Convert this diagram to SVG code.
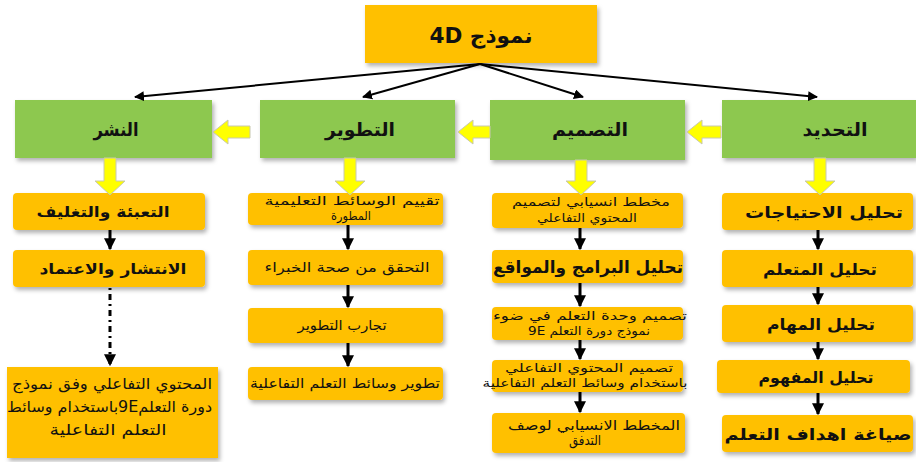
<svg xmlns="http://www.w3.org/2000/svg" width="916" height="462" viewBox="0 0 916 462">
  <defs>
    <filter id="shadow" x="-10%" y="-20%" width="125%" height="150%">
      <feDropShadow dx="2" dy="3" stdDeviation="2" flood-color="#000" flood-opacity="0.3"/>
    </filter>
    <marker id="tip" viewBox="0 0 10 10" refX="9" refY="5" markerWidth="5" markerHeight="5" orient="auto" markerUnits="strokeWidth">
      <path d="M0,0 L10,5 L0,10 z" fill="#000"/>
    </marker>
    <marker id="tipSmall" viewBox="0 0 10 10" refX="9" refY="5" markerWidth="4" markerHeight="4" orient="auto" markerUnits="strokeWidth">
      <path d="M0,0 L10,5 L0,10 z" fill="#000"/>
    </marker>
  </defs>
  <style>
    text { font-family: "DejaVu Sans", "Noto Sans", sans-serif; fill: #111; direction: rtl; text-anchor: middle; }
    .main { fill: #FFC000; filter: url(#shadow); }
    .phase { fill: #8DC84F; filter: url(#shadow); }
    .step { fill: #FFC000; filter: url(#shadow); }
    .title { font-size: 21px; font-weight: bold; }
    .phaseLabel { font-size: 18px; font-weight: bold; }
    .big { font-size: 16px; font-weight: bold; }
    .mid { font-size: 15px; font-weight: bold; }
    .small { font-size: 13.5px; }
    .tight { font-size: 12px; }
    .line { stroke: #000; stroke-width: 2; fill: none; marker-end: url(#tip); }
    .down { stroke: #000; stroke-width: 3; fill: none; marker-end: url(#tipSmall); }
    .dotted { stroke: #000; stroke-width: 3; fill: none; stroke-dasharray: 2 4 6 4; marker-end: url(#tipSmall); }
    .block { fill: #FFFF00; stroke: #C8C8B0; stroke-width: 1; }
  </style>

  <!-- top node -->
  <g id="model">
    <rect class="main" x="365" y="5" width="232" height="58"/>
    <text class="title" x="481" y="43" textLength="103" lengthAdjust="spacingAndGlyphs">نموذج 4D</text>
  </g>

  <!-- phases -->
  <g id="phase-dissemination">
    <rect class="phase" x="15" y="100" width="197" height="58"/>
    <text class="phaseLabel" x="116" y="136" textLength="45" lengthAdjust="spacingAndGlyphs">النشر</text>
  </g>
  <g id="phase-development">
    <rect class="phase" x="260" y="100" width="195" height="58"/>
    <text class="phaseLabel" x="360" y="136" textLength="70" lengthAdjust="spacingAndGlyphs">التطوير</text>
  </g>
  <g id="phase-design">
    <rect class="phase" x="490" y="100" width="195" height="60"/>
    <text class="phaseLabel" x="590" y="136" textLength="76" lengthAdjust="spacingAndGlyphs">التصميم</text>
  </g>
  <g id="phase-define">
    <rect class="phase" x="722" y="100" width="194" height="58"/>
    <text class="phaseLabel" x="835" y="136" textLength="65" lengthAdjust="spacingAndGlyphs">التحديد</text>
  </g>

  <!-- dissemination steps -->
  <g id="d1">
    <rect class="step" x="13" y="193" width="192" height="37" rx="4"/>
    <text class="mid" x="103" y="217" textLength="133" lengthAdjust="spacingAndGlyphs">التعبئة والتغليف</text>
  </g>
  <g id="d2">
    <rect class="step" x="13" y="250" width="192" height="37" rx="4"/>
    <text class="mid" x="113" y="274" textLength="147" lengthAdjust="spacingAndGlyphs">الانتشار والاعتماد</text>
  </g>
  <g id="d3">
    <rect class="step" x="7" y="367" width="211" height="91"/>
    <text class="small" x="112" y="389" style="font-size:15px" textLength="200" lengthAdjust="spacingAndGlyphs">المحتوي التفاعلي وفق نموذج</text>
    <text class="small" x="212" y="412" style="font-size:15px;text-anchor:start" textLength="205" lengthAdjust="spacingAndGlyphs">دورة التعلم9Eباستخدام وسائط</text>
    <text class="small" x="108" y="435" style="font-size:15px" textLength="117" lengthAdjust="spacingAndGlyphs">التعلم التفاعلية</text>
  </g>

  <!-- development steps -->
  <g id="v1">
    <rect class="step" x="248" y="193" width="195" height="32" rx="4"/>
    <text class="tight" x="352" y="205" textLength="175" lengthAdjust="spacingAndGlyphs">تقييم الوسائط التعليمية</text>
    <text class="tight" x="351" y="220" textLength="40" lengthAdjust="spacingAndGlyphs">المطورة</text>
  </g>
  <g id="v2">
    <rect class="step" x="248" y="250" width="195" height="35" rx="4"/>
    <text class="small" x="347" y="272" textLength="165" lengthAdjust="spacingAndGlyphs">التحقق من صحة الخبراء</text>
  </g>
  <g id="v3">
    <rect class="step" x="248" y="308" width="195" height="35" rx="4"/>
    <text class="small" x="342" y="330" textLength="89" lengthAdjust="spacingAndGlyphs">تجارب التطوير</text>
  </g>
  <g id="v4">
    <rect class="step" x="248" y="367" width="195" height="33" rx="4"/>
    <text class="small" x="345" y="388" textLength="190" lengthAdjust="spacingAndGlyphs">تطوير وسائط التعلم التفاعلية</text>
  </g>

  <!-- design steps -->
  <g id="s1">
    <rect class="step" x="492" y="193" width="191" height="35" rx="4"/>
    <text class="tight" x="591" y="206" textLength="158" lengthAdjust="spacingAndGlyphs">مخطط انسيابي لتصميم</text>
    <text class="tight" x="587" y="222" textLength="100" lengthAdjust="spacingAndGlyphs">المحتوي التفاعلي</text>
  </g>
  <g id="s2">
    <rect class="step" x="492" y="250" width="191" height="33" rx="4"/>
    <text class="big" x="588" y="273" style="font-size:17px" textLength="190" lengthAdjust="spacingAndGlyphs">تحليل البرامج والمواقع</text>
  </g>
  <g id="s3">
    <rect class="step" x="492" y="307" width="191" height="33" rx="4"/>
    <text class="tight" x="590" y="320" textLength="194" lengthAdjust="spacingAndGlyphs">تصميم وحدة التعلم في ضوء</text>
    <text class="tight" x="589" y="335" textLength="122" lengthAdjust="spacingAndGlyphs">نموذج دورة التعلم 9E</text>
  </g>
  <g id="s4">
    <rect class="step" x="492" y="360" width="191" height="32" rx="4"/>
    <text class="tight" x="589" y="372" textLength="168" lengthAdjust="spacingAndGlyphs">تصميم المحتوي التفاعلي</text>
    <text class="tight" x="585" y="387" textLength="205" lengthAdjust="spacingAndGlyphs">باستخدام وسائط التعلم التفاعلية</text>
  </g>
  <g id="s5">
    <rect class="step" x="492" y="413" width="193" height="40" rx="4"/>
    <text class="small" x="594" y="430" textLength="172" lengthAdjust="spacingAndGlyphs">المخطط الانسيابي لوصف</text>
    <text class="small" x="585" y="445" textLength="32" lengthAdjust="spacingAndGlyphs">التدفق</text>
  </g>

  <!-- define steps -->
  <g id="t1">
    <rect class="step" x="722" y="193" width="191" height="37" rx="4"/>
    <text class="big" x="824" y="218" textLength="158" lengthAdjust="spacingAndGlyphs">تحليل الاحتياجات</text>
  </g>
  <g id="t2">
    <rect class="step" x="722" y="250" width="191" height="37" rx="4"/>
    <text class="big" x="820" y="275" textLength="114" lengthAdjust="spacingAndGlyphs">تحليل المتعلم</text>
  </g>
  <g id="t3">
    <rect class="step" x="722" y="305" width="191" height="37" rx="4"/>
    <text class="big" x="821" y="330" textLength="108" lengthAdjust="spacingAndGlyphs">تحليل المهام</text>
  </g>
  <g id="t4">
    <rect class="step" x="717" y="360" width="193" height="33" rx="4"/>
    <text class="big" x="816" y="383" textLength="115" lengthAdjust="spacingAndGlyphs">تحليل المفهوم</text>
  </g>
  <g id="t5">
    <rect class="step" x="722" y="415" width="191" height="37" rx="4"/>
    <text class="big" x="818" y="440" textLength="187" lengthAdjust="spacingAndGlyphs">صياغة اهداف التعلم</text>
  </g>

  <!-- connectors -->
  <g id="connectors">
    <!-- from the model to each phase -->
    <path class="line" d="M480,64 L135,97"/>
    <path class="line" d="M480,64 L363,97"/>
    <path class="line" d="M480,64 L583,97"/>
    <path class="line" d="M480,64 L817,97"/>

    <!-- phase order (right to left) -->
    <path class="block" d="M213,132 L228,120 L228,126 L250,126 L250,138 L228,138 L228,144 z"/>
    <path class="block" d="M458,132 L473,120 L473,126 L490,126 L490,138 L473,138 L473,144 z"/>
    <path class="block" d="M687,132 L702,120 L702,126 L721,126 L721,138 L702,138 L702,144 z"/>

    <!-- phase to first step -->
    <path class="block" d="M104,158 L116,158 L116,181 L125,181 L110,195 L95,181 L104,181 z"/>
    <path class="block" d="M344,158 L356,158 L356,181 L365,181 L350,195 L335,181 L344,181 z"/>
    <path class="block" d="M575,160 L587,160 L587,181 L596,181 L581,195 L566,181 L575,181 z"/>
    <path class="block" d="M814,158 L826,158 L826,181 L835,181 L820,195 L805,181 L814,181 z"/>

    <!-- dissemination -->
    <path class="down" d="M110,230 L110,249"/>
    <path class="dotted" d="M110,288 L110,365"/>

    <!-- development -->
    <path class="down" d="M348,225 L348,249"/>
    <path class="down" d="M348,285 L348,307"/>
    <path class="down" d="M348,343 L348,366"/>

    <!-- design -->
    <path class="down" d="M580,228 L580,249"/>
    <path class="down" d="M580,283 L580,306"/>
    <path class="down" d="M580,340 L580,359"/>
    <path class="down" d="M580,392 L580,412"/>

    <!-- define -->
    <path class="down" d="M818,230 L818,249"/>
    <path class="down" d="M818,287 L818,304"/>
    <path class="down" d="M818,342 L818,359"/>
    <path class="down" d="M818,393 L818,414"/>
  </g>
</svg>
